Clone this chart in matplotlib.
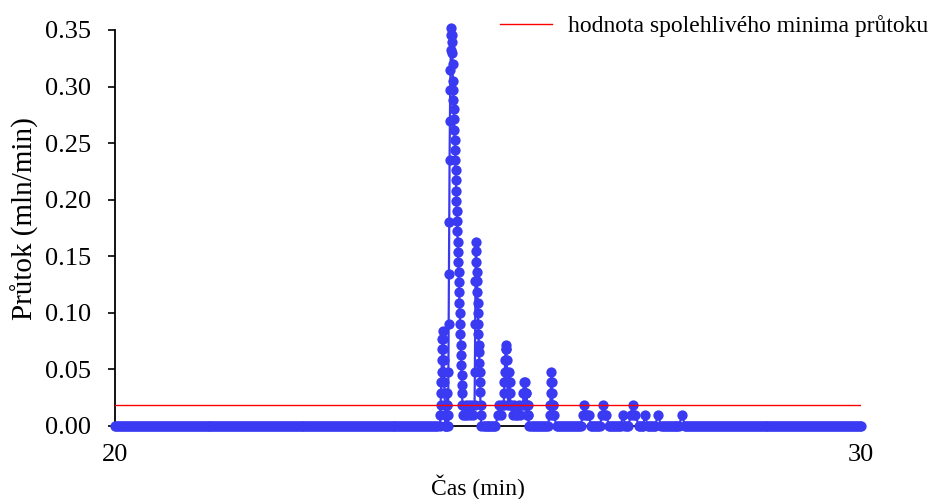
import numpy as np
import matplotlib
matplotlib.use('Agg')
import matplotlib.pyplot as plt

# Flow record (mln/min); events are short bursts
# sampled densely, everything else is zero flow.
t_min, t_max = 20, 30
base_step = 0.02          # sampling of the zero baseline (min)
reliable_min = 0.019      # hodnota spolehlivého minima průtoku

# burst 1: small stack + main peak
ev1_t0, ev1_dt = 24.357, 0.004
ev1_flow = [0, 0.010, 0.019, 0.029, 0.039, 0.048, 0.058, 0.068, 0.077, 0.084,
            0.077, 0.068, 0.058, 0.048, 0.039, 0.029, 0.019, 0.010,
            0, 0, 0.010, 0, 0.010, 0.019, 0.029, 0.019, 0.010, 0,
            0.048, 0.090, 0.134, 0.180, 0.235, 0.270, 0.297, 0.315, 0.332, 0.346, 0.352,
            0.346, 0.339, 0.330, 0.320, 0.305, 0.297, 0.288, 0.280, 0.271, 0.262,
            0.253, 0.244, 0.235, 0.226, 0.217, 0.208, 0.199, 0.190, 0.181, 0.172,
            0.163, 0.154, 0.145, 0.136, 0.127, 0.118, 0.109, 0.100, 0.090, 0.081,
            0.072, 0.063, 0.054, 0.045, 0.036, 0.029, 0.019, 0.010]

ev2_t0, ev2_dt = 24.685, 0.02
ev2_flow = [0.010, 0.019, 0.010, 0.019, 0.010, 0.019, 0.010]

# burst 3: second peak
ev3_t0, ev3_dt = 24.82, 0.004
ev3_flow = [0.019, 0.048, 0.090, 0.128, 0.163,
            0.155, 0.145, 0.136, 0.128, 0.118, 0.109, 0.100, 0.090, 0.081,
            0.072, 0.065, 0.056, 0.048, 0.039, 0.030, 0.019, 0.010, 0]

ev4_t0, ev4_dt = 25.134, 0.02
ev4_flow = [0.010, 0.019, 0.010, 0.019]

ev5_t0, ev5_dt = 25.21, 0.005
ev5_flow = [0.019, 0.029, 0.039, 0.048, 0.058, 0.068, 0.072, 0.068, 0.058, 0.048,
            0.039, 0.029, 0.019, 0.029, 0.039, 0.048, 0.039, 0.029, 0.019]

ev6_t0, ev6_dt = 25.31, 0.02
ev6_flow = [0.019, 0.010, 0.019, 0.010, 0.010, 0.019, 0.010]

ev7_t0, ev7_dt = 25.47, 0.005
ev7_flow = [0.019, 0.029, 0.039, 0.029, 0.019, 0.029, 0.039, 0.029, 0.019,
            0.029, 0.019, 0.010, 0.010, 0.019, 0.010, 0]

ev8_t0, ev8_dt = 25.83, 0.005
ev8_flow = [0.010, 0.019, 0.029, 0.039, 0.048, 0.039, 0.029, 0.019, 0.010, 0.019, 0.010]

# small late bursts
small_t0 = [26.273, 26.528, 26.81, 26.917, 27.105, 27.279, 27.601]
small_dt = 0.02
small_flow = [[0.010, 0.019, 0.010, 0.010, 0.010],
              [0.010, 0.019, 0.010, 0.010],
              [0.010],
              [0.010, 0.019, 0.010, 0.010],
              [0.010],
              [0.010],
              [0.010]]

events = [(ev1_t0, ev1_dt, ev1_flow), (ev2_t0, ev2_dt, ev2_flow),
          (ev3_t0, ev3_dt, ev3_flow), (ev4_t0, ev4_dt, ev4_flow),
          (ev5_t0, ev5_dt, ev5_flow), (ev6_t0, ev6_dt, ev6_flow),
          (ev7_t0, ev7_dt, ev7_flow), (ev8_t0, ev8_dt, ev8_flow)]
events += [(t0, small_dt, f) for t0, f in zip(small_t0, small_flow)]

ev_t = np.concatenate([t0 + dt * np.arange(len(f)) for t0, dt, f in events])
ev_q = np.concatenate([np.array(f, dtype=float) for _, _, f in events])

t_base = np.round(np.arange(t_min, t_max + 1e-9, base_step), 4)
near = np.min(np.abs(t_base[:, None] - ev_t[None, :]), axis=1) < 0.025
t_base = t_base[~near]

t = np.concatenate([t_base, ev_t])
q = np.concatenate([np.zeros(len(t_base)), ev_q])
order = np.argsort(t, kind='stable')
t, q = t[order], q[order]

plt.rcParams['font.family'] = ['Liberation Serif', 'DejaVu Serif']

fig = plt.figure(figsize=(9.36, 4.99), dpi=100)
ax = fig.add_axes([115 / 936, 73 / 499, 746 / 936, 396 / 499])

ax.plot(t, q, color='#3a3af2', lw=1.6, marker='o', markersize=7.4,
        markeredgewidth=0, clip_on=False, zorder=3)
ax.axhline(reliable_min, color='red', lw=1.0, zorder=4,
           label='hodnota spolehlivého minima průtoku')

ax.set_xlim(t_min, t_max)
ax.set_ylim(0, 0.35)
ax.set_xticks([20, 30])
ax.set_yticks(np.arange(0, 0.351, 0.05))
ax.yaxis.set_major_formatter(matplotlib.ticker.FormatStrFormatter('%.2f'))
ax.tick_params(axis='y', direction='out', length=5, width=1.2, pad=12, labelsize=19)
ax.tick_params(axis='x', direction='out', length=3, width=1.2, pad=10, labelsize=19)

for s in ['top', 'right']:
    ax.spines[s].set_visible(False)
for s in ['left', 'bottom']:
    ax.spines[s].set_linewidth(1.3)

ax.set_xlabel('Čas (min)', fontsize=17, va='center')
ax.xaxis.set_label_coords(0.487, -0.154)
ax.set_ylabel('Průtok (mln/min)', fontsize=21, va='center')
ax.yaxis.set_label_coords(-0.1206, 0.524)

fig.legend(loc='center left', bbox_to_anchor=(500 / 936, 1 - 26 / 499),
           frameon=False, fontsize=17, handlelength=2.2, handletextpad=0.68,
           borderpad=0, borderaxespad=0)

fig.savefig('out.png', dpi=100)
